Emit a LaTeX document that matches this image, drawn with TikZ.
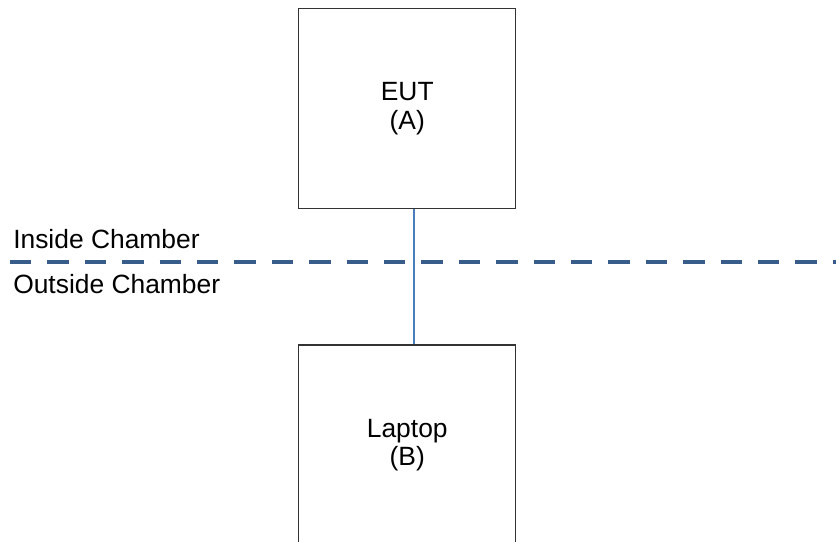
\documentclass[tikz,border=0pt]{standalone}
\usepackage{fontspec}
\setmainfont{Liberation Sans}
\usetikzlibrary{positioning}
\definecolor{ChamberBlue}{RGB}{56,93,138}
\definecolor{CableBlue}{RGB}{74,126,187}

\begin{document}
\begin{tikzpicture}[x=0.75pt, y=-0.75pt, node distance=101.5pt,
        every node/.append style={font=\fontsize{19.8}{21.4}\selectfont}]
      \tikzstyle{unit} = [draw=black!80, line width=0.9pt, minimum width=162.75pt,
                          minimum height=150pt, align=center, inner sep=0pt]
      \tikzstyle{side} = [anchor=base west, inner sep=0pt]
      \tikzstyle{cable} = [color=CableBlue, line width=1pt]
      \useasboundingbox (0,0) rectangle (836,542);
      \node (eut) [unit] at (407.25,108.5) {EUT\\(A)};
      \node (laptop) [unit, below=of eut] {Laptop\\(B)};
      % chamber wall
      \coordinate (wallL) at (10,262);
      \coordinate (wallR) at (840,262);
      \draw[ChamberBlue, line width=3pt, dash pattern=on 16pt off 12.05pt] (wallL) -- (wallR);
      \node (inside) [side] at (13,248) {Inside Chamber};
      \node (outside) [side] at (13,293) {Outside Chamber};
      \draw[cable] ([xshift=5pt]eut.south) -- ([xshift=5pt]laptop.north);
\end{tikzpicture}
\end{document}
